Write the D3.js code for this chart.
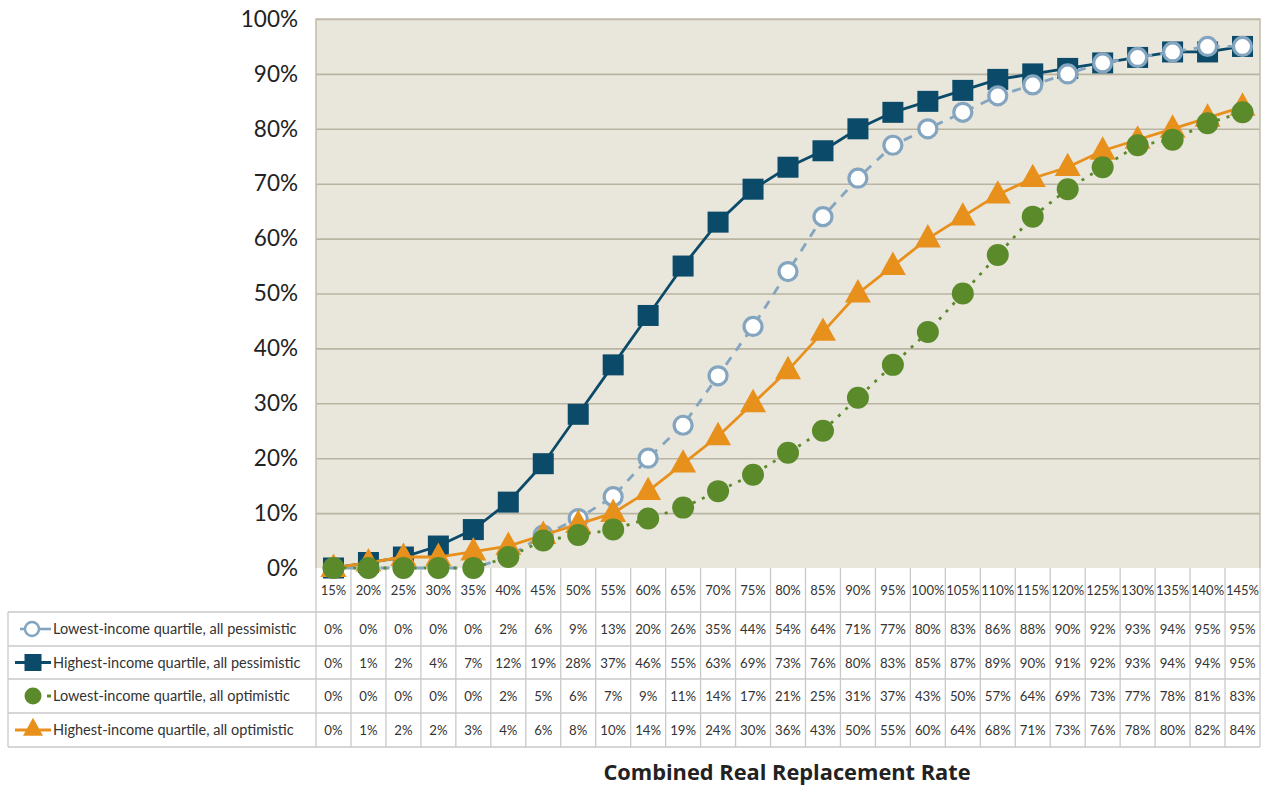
<!DOCTYPE html>
<html><head><meta charset="utf-8">
<script src="https://cdn.jsdelivr.net/npm/d3@7/dist/d3.min.js"></script>
<style>
body{margin:0;background:#fff;}
svg{display:block;font-family:Lato, "Open Sans", sans-serif;}
</style></head>
<body><svg id="c" width="1262" height="787"></svg>
<script>
const categories = ["15%","20%","25%","30%","35%","40%","45%","50%","55%","60%","65%","70%","75%","80%","85%","90%","95%","100%","105%","110%","115%","120%","125%","130%","135%","140%","145%"];
const yTicks = [0,10,20,30,40,50,60,70,80,90,100];
const seriesNames = ["Lowest-income quartile, all pessimistic","Highest-income quartile, all pessimistic","Lowest-income quartile, all optimistic","Highest-income quartile, all optimistic"];
const lowPess  = [0,0,0,0,0,2,6,9,13,20,26,35,44,54,64,71,77,80,83,86,88,90,92,93,94,95,95];
const highPess = [0,1,2,4,7,12,19,28,37,46,55,63,69,73,76,80,83,85,87,89,90,91,92,93,94,94,95];
const lowOpt   = [0,0,0,0,0,2,5,6,7,9,11,14,17,21,25,31,37,43,50,57,64,69,73,77,78,81,83];
const highOpt  = [0,1,2,2,3,4,6,8,10,14,19,24,30,36,43,50,55,60,64,68,71,73,76,78,80,82,84];
const xTitle = "Combined Real Replacement Rate";

const svg = d3.select("#c");
const L = 316, R = 1260, T = 19, B = 568;
const x = d3.scaleBand().domain(categories).range([L, R]).padding(0);
const y = d3.scaleLinear().domain([0,100]).range([B, T]);

svg.append("rect").attr("x",L).attr("y",T).attr("width",R-L).attr("height",B-T).attr("fill","#e9e6dc");

const grid = svg.append("g").attr("transform",`translate(${L},0)`)
  .call(d3.axisLeft(y).tickValues(yTicks.filter(v=>v>0)).tickSize(-(R-L)).tickFormat(""));
grid.select(".domain").remove();
grid.selectAll("line").attr("stroke","#b9b4a2").attr("stroke-width",1.6);

svg.append("path").attr("d",`M${L},${B}V${T}H${R}V${B}`).attr("fill","none").attr("stroke","#c4bfad").attr("stroke-width",1.6);

const yAx = svg.append("g").attr("transform",`translate(${L},0)`)
  .call(d3.axisLeft(y).tickValues(yTicks).tickSize(0).tickPadding(18).tickFormat(d=>d+"%"));
yAx.select(".domain").remove();
yAx.selectAll("text").attr("font-size",22.5).attr("fill","#222").attr("font-family","Lato, sans-serif");

const rowTop = [568, 612, 646, 679, 713, 747];
const tbl = svg.append("g");
const bounds = categories.map(c=>x(c)).concat([R]);
tbl.selectAll("line.col").data(bounds).enter().append("line")
  .attr("x1",d=>d).attr("x2",d=>d).attr("y1",B).attr("y2",rowTop[5])
  .attr("stroke","#c9c9c9").attr("stroke-width",1.3);
tbl.selectAll("line.row").data(rowTop.slice(1)).enter().append("line")
  .attr("x1",8).attr("x2",R).attr("y1",d=>d).attr("y2",d=>d)
  .attr("stroke","#c9c9c9").attr("stroke-width",1.3);
tbl.append("line").attr("x1",8).attr("x2",8).attr("y1",rowTop[1]).attr("y2",rowTop[5]).attr("stroke","#c9c9c9").attr("stroke-width",1.3);

tbl.selectAll("text.hdr").data(categories).enter().append("text")
  .attr("x",d=>x(d)+x.bandwidth()/2).attr("y",(rowTop[0]+rowTop[1])/2+5)
  .attr("text-anchor","middle").attr("font-size",13).attr("fill","#333").text(d=>d);

const allSeries = [lowPess, highPess, lowOpt, highOpt];
allSeries.forEach((vals,i)=>{
  const yc = (rowTop[i+1]+rowTop[i+2])/2+5;
  tbl.selectAll(null).data(vals).enter().append("text")
    .attr("x",(d,j)=>x(categories[j])+x.bandwidth()/2).attr("y",yc)
    .attr("text-anchor","middle").attr("font-size",13.2).attr("fill","#333").text(d=>d+"%");
  tbl.append("text").attr("x",53).attr("y",yc).attr("font-size",14.5).attr("fill","#333").text(seriesNames[i]);
});

const C = {lp:"#84a5bf", hp:"#0b4a68", lo:"#5b8a2b", ho:"#e8901c"};
const line = d3.line().x((d,j)=>x(categories[j])+x.bandwidth()/2).y(d=>y(d));
const cx = j=>x(categories[j])+x.bandwidth()/2;

function sq(g, px, py, s){ g.append("rect").attr("x",px-s/2).attr("y",py-s/2).attr("width",s).attr("height",s).attr("fill",C.hp); }
function tri(g, px, py, s){ const h=s*0.9; g.append("path").attr("d",`M${px},${py-h*0.62}L${px+s/2},${py+h*0.38}L${px-s/2},${py+h*0.38}Z`).attr("fill",C.ho); }

svg.append("path").datum(highPess).attr("d",line).attr("fill","none").attr("stroke",C.hp).attr("stroke-width",2.8);
const gHP = svg.append("g");
highPess.forEach((v,j)=>sq(gHP,cx(j),y(v),21));

svg.append("path").datum(lowPess).attr("d",line).attr("fill","none").attr("stroke",C.lp).attr("stroke-width",2.8).attr("stroke-dasharray","9,8").attr("stroke-dashoffset",-13);
svg.append("g").selectAll("circle").data(lowPess).enter().append("circle")
  .attr("cx",(d,j)=>cx(j)).attr("cy",d=>y(d)).attr("r",9)
  .attr("fill","#fff").attr("stroke",C.lp).attr("stroke-width",3.2);

svg.append("path").datum(highOpt).attr("d",line).attr("fill","none").attr("stroke",C.ho).attr("stroke-width",2.8);
const gHO = svg.append("g");
highOpt.forEach((v,j)=>tri(gHO,cx(j),y(v),26));

svg.append("path").datum(lowOpt).attr("d",line).attr("fill","none").attr("stroke",C.lo).attr("stroke-width",2.8).attr("stroke-dasharray","3,7");
svg.append("g").selectAll("circle").data(lowOpt).enter().append("circle")
  .attr("cx",(d,j)=>cx(j)).attr("cy",d=>y(d)).attr("r",11).attr("fill",C.lo);

const ly = i=>(rowTop[i+1]+rowTop[i+2])/2;
const lg = svg.append("g");
lg.append("line").attr("x1",20).attr("x2",24).attr("y1",ly(0)).attr("y2",ly(0)).attr("stroke",C.lp).attr("stroke-width",2.6);
lg.append("line").attr("x1",40).attr("x2",51).attr("y1",ly(0)).attr("y2",ly(0)).attr("stroke",C.lp).attr("stroke-width",2.6);
lg.append("circle").attr("cx",32).attr("cy",ly(0)).attr("r",7).attr("fill","#fff").attr("stroke",C.lp).attr("stroke-width",2.5);
lg.append("line").attr("x1",15).attr("x2",51).attr("y1",ly(1)).attr("y2",ly(1)).attr("stroke",C.hp).attr("stroke-width",3);
sq(lg,33,ly(1),17);
lg.append("circle").attr("cx",33).attr("cy",ly(2)).attr("r",8.5).attr("fill",C.lo);
lg.append("line").attr("x1",47).attr("x2",51).attr("y1",ly(2)).attr("y2",ly(2)).attr("stroke",C.lo).attr("stroke-width",3);
lg.append("line").attr("x1",15).attr("x2",51).attr("y1",ly(3)).attr("y2",ly(3)).attr("stroke",C.ho).attr("stroke-width",3);
tri(lg,33,ly(3)-1,20);

svg.append("text").attr("x",787).attr("y",780).attr("text-anchor","middle")
  .attr("font-family","'Open Sans', sans-serif")
  .attr("font-size",21.8).attr("font-weight","bold").attr("fill","#222").text(xTitle);
</script></body></html>
